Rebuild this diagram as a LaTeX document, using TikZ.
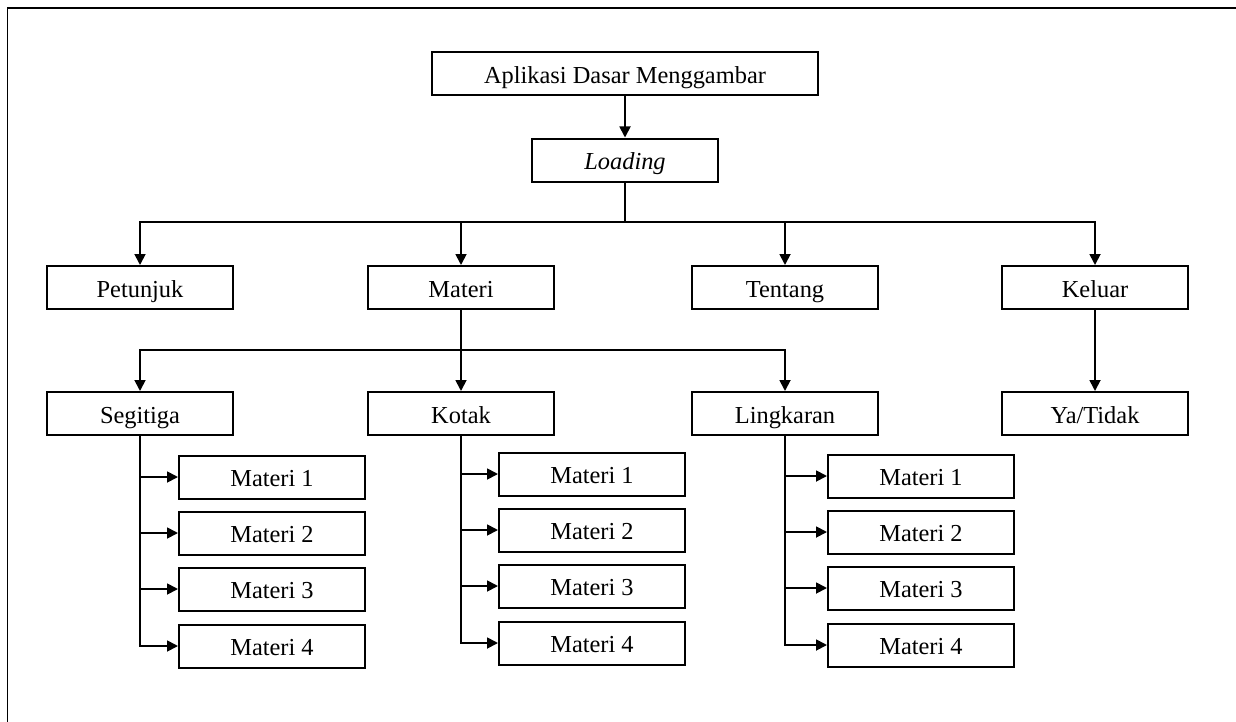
\documentclass[tikz,border=0pt]{standalone}
\usepackage{fontspec}
\setmainfont{Liberation Serif}
\usetikzlibrary{arrows.meta}

\begin{document}
\begin{tikzpicture}[x=0.5pt,y=-0.5pt,
        box/.style={draw,line width=1pt,minimum width=93pt,minimum height=21.5pt,inner sep=0pt,
            text height=9.8pt,text depth=0.3pt,font=\fontsize{12.2}{14}\selectfont},
        arr/.style={-{Triangle[length=5.5pt,width=5.5pt]},line width=0.9pt}]
                    \useasboundingbox (0,0) rectangle (1236,722);
                    \draw[line width=0.8pt] (1236,8) -- (7.5,8) -- (7.5,722);

                    \node[box,minimum width=193pt] (app) at (625,74) {Aplikasi Dasar Menggambar};
                    \node[box] (load) at (625,160) {\textit{Loading}};

                    \node[box] (pet) at (140,287.5) {Petunjuk};
                    \node[box] (mat) at (461,287.5) {Materi};
                    \node[box] (ten) at (785,287.5) {Tentang};
                    \node[box] (kel) at (1095,287.5) {Keluar};

                    \node[box] (seg) at (140,413.5) {Segitiga};
                    \node[box] (kot) at (461,413.5) {Kotak};
                    \node[box] (lin) at (785,413.5) {Lingkaran};
                    \node[box] (ya) at (1095,413.5) {Ya/Tidak};

                    \foreach \i/\y in {1/477,2/533,3/589,4/646}
                        \node[box] (s\i) at (272,\y) {Materi \i};
                    \foreach \i/\y in {1/474,2/530,3/586,4/643}
                        \node[box] (k\i) at (592,\y) {Materi \i};
                    \foreach \i/\y in {1/476,2/532,3/588,4/645}
                        \node[box] (l\i) at (921,\y) {Materi \i};

                        \coordinate (hub1) at (625,222);
                        \coordinate (hub2) at (461,350);

                    \draw[arr] (app) -- (load);
                    \draw[line width=0.9pt] (load.south) -- (hub1);
                    \foreach \n in {pet,mat,ten,kel}
                        \draw[arr] (hub1) -| (\n.north);

                    \draw[line width=0.9pt] (mat.south) -- (hub2);
                    \foreach \n in {seg,kot,lin}
                        \draw[arr] (hub2) -| (\n.north);
                    \draw[arr] (kel) -- (ya);

                    \foreach \p/\q in {seg/s,kot/k,lin/l}
                        \foreach \i in {1,...,4}
                            \draw[arr] (\p.south) |- (\q\i.west);

\end{tikzpicture}
\end{document}
